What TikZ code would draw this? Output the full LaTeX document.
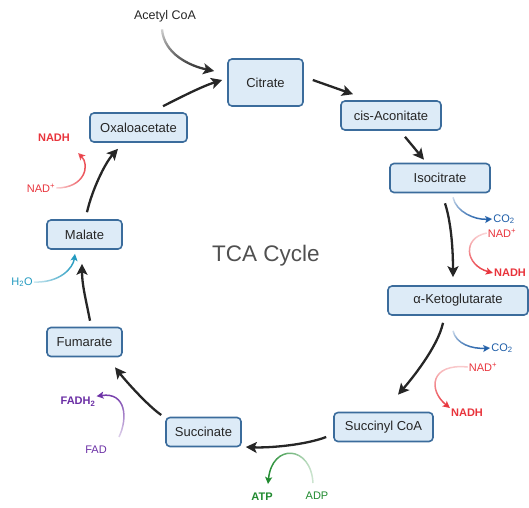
\documentclass[tikz,border=0pt]{standalone}
\usepackage{fontspec}
\setmainfont{Liberation Sans}
\usepackage{tikz}
\usetikzlibrary{arrows.meta,calc,fadings}
\definecolor{boxfill}{HTML}{DDEBF7}
\definecolor{boxdraw}{HTML}{3B6C9C}
\definecolor{inkgray}{HTML}{262626}
\definecolor{titlegray}{HTML}{505050}
\definecolor{nadred}{HTML}{E8343C}
\definecolor{coblue}{HTML}{1F5EA8}
\definecolor{atpgreen}{HTML}{208A2F}
\definecolor{fadpurple}{HTML}{6B2FA5}
\definecolor{watercyan}{HTML}{2199BF}
\tikzfading[name=fromnorth,top color=transparent!80,middle color=transparent!0,bottom color=transparent!0]
\tikzfading[name=fromsouth,top color=transparent!0,middle color=transparent!0,bottom color=transparent!80]
\tikzfading[name=fromwest,left color=transparent!80,middle color=transparent!0,right color=transparent!0]
\tikzfading[name=fromeast,left color=transparent!0,middle color=transparent!0,right color=transparent!80]
\tikzset{
  metabnode/.style={rectangle,rounded corners=4pt,draw=boxdraw,fill=boxfill,
    line width=1.6pt,minimum height=29pt,inner sep=2pt,text=inkgray,
    font=\fontsize{13}{15}\selectfont},
  cycleedge/.style={line width=2.3pt,draw=inkgray,
    -{Stealth[length=11pt,width=11pt,inset=2.5pt]}},
  sideedge/.style={line width=1.5pt,-{Stealth[length=7pt,width=7pt,inset=1.5pt]}},
  sidelabel/.style={inner sep=1pt,font=\fontsize{11}{13}\selectfont},
  boldlabel/.style={inner sep=1pt,font=\fontsize{11}{13}\selectfont\bfseries}
}
\begin{document}
\begin{tikzpicture}[x=1pt,y=-1pt]
  \useasboundingbox (0,0) rectangle (529,507);
  \node[metabnode,minimum width=75pt,minimum height=47pt] (cit) at (265.5,82.5) {Citrate};
  \node[metabnode,minimum width=100pt] (cis) at (391,115.5) {cis-Aconitate};
  \node[metabnode,minimum width=100pt] (iso) at (440,178) {Isocitrate};
  \node[metabnode,minimum width=140pt] (akg) at (458,300.5) {α-Ketoglutarate};
  \node[metabnode,minimum width=99pt] (sca) at (383.5,427) {Succinyl CoA};
  \node[metabnode,minimum width=75pt] (suc) at (203.5,432) {Succinate};
  \node[metabnode,minimum width=75pt] (fum) at (84.5,342) {Fumarate};
  \node[metabnode,minimum width=75pt] (mal) at (84.5,234.5) {Malate};
  \node[metabnode,minimum width=97pt] (oxa) at (138.5,127.5) {Oxaloacetate};

  \node[text=titlegray,font=\fontsize{22.5}{26}\selectfont] (title) at (266,256) {TCA Cycle};
  \node[text=inkgray,font=\fontsize{12.5}{15}\selectfont] (acetyl) at (165,16) {Acetyl CoA};

  \node[sidelabel,text=coblue] (co2a) at (504,219) {CO\textsubscript{2}};
  \node[sidelabel,text=nadred] (nadpa) at (502,233) {NAD\textsuperscript{+}};
  \node[boldlabel,text=nadred] (nadha) at (510,273) {NADH};
  \node[sidelabel,text=coblue] (co2b) at (502,348) {CO\textsubscript{2}};
  \node[sidelabel,text=nadred] (nadpb) at (483,367) {NAD\textsuperscript{+}};
  \node[boldlabel,text=nadred] (nadhb) at (467,413) {NADH};
  \node[boldlabel,text=atpgreen] (atp) at (262,497) {ATP};
  \node[sidelabel,text=atpgreen] (adp) at (317,496) {ADP};
  \node[sidelabel,text=fadpurple] (fad) at (96,450) {FAD};
  \node[boldlabel,text=fadpurple] (fadh) at (78,402) {FADH\textsubscript{2}};
  \node[sidelabel,text=watercyan] (h2o) at (22,282) {H\textsubscript{2}O};
  \node[sidelabel,text=nadred] (nadpc) at (41,188) {NAD\textsuperscript{+}};
  \node[boldlabel,text=nadred] (nadhc) at (54,138) {NADH};

  \draw[cycleedge] ($(oxa.north)+(24.5,-6)$) .. controls (183,96) and (203,86) .. ($(cit.west)+(-5,-2.5)$);
  \draw[cycleedge,path fading=fromnorth] ($(acetyl.south)+(-3,4)$) .. controls (164,54) and (190,66) .. ($(cit.west)+(-13,-11.5)$);
  \draw[cycleedge] ($(cit.east)+(9,-2.5)$) -- ($(cis.north)+(-38,-6)$);
  \draw[cycleedge] ($(cis.south)+(14,6)$) -- ($(iso.north)+(-16,-3)$);
  \draw[cycleedge] ($(iso.south)+(5,10)$) .. controls (452,225) and (453,255) .. ($(akg.north)+(-5,-8)$);
  \draw[cycleedge] ($(akg.south)+(-15,7)$) .. controls (438,347) and (410,381) .. ($(sca.north)+(14.5,-17)$);
  \draw[cycleedge] ($(sca.west)+(-7,10)$) .. controls (305,445) and (270,448) .. ($(suc.east)+(4,15)$);
  \draw[cycleedge] ($(suc.west)+(-4,-17)$) .. controls (147,405) and (125,380) .. ($(fum.south)+(30.5,10)$);
  \draw[cycleedge] ($(fum.north)+(5.5,-6)$) .. controls (86,300) and (82,285) .. ($(mal.south)+(-2.5,14)$);
  \draw[cycleedge] ($(mal.north)+(2.5,-7)$) .. controls (92,190) and (105,163) .. ($(oxa.south)+(-20.5,6)$);

  \coordinate (isoout) at ($(iso.south)+(13,4)$);
  \coordinate (akgout) at ($(akg.south)+(-5,15)$);
  \draw[sideedge,coblue,path fading=fromnorth] (isoout) .. controls (456,212) and (475,220) .. (co2a.west);
  \draw[sideedge,nadred,path fading=fromnorth] (nadpa.west) .. controls (462,238) and (465,265) .. (nadha.west);
  \draw[sideedge,coblue,path fading=fromnorth] (akgout) .. controls (456,344) and (472,349) .. (co2b.west);
  \draw[sideedge,nadred,path fading=fromnorth] (nadpb.west) .. controls (430,363) and (428,390) .. (nadhb.north west);
  \draw[sideedge,atpgreen,path fading=fromeast] ($(adp.north)+(-4,-8)$) .. controls (311,445) and (272,443) .. ($(atp.north)+(6,-8)$);
  \draw[sideedge,fadpurple,path fading=fromsouth] ($(fad.north)+(23,-8)$) .. controls (128,418) and (126,392) .. (fadh.north east);
  \draw[sideedge,watercyan,path fading=fromwest] (h2o.east) .. controls (60,283) and (73,268) .. ($(mal.south)+(-9.5,4)$);
  \draw[sideedge,nadred,path fading=fromwest] (nadpc.east) .. controls (85,188) and (90,165) .. ($(nadhc.south)+(24,10)$);
\end{tikzpicture}
\end{document}
